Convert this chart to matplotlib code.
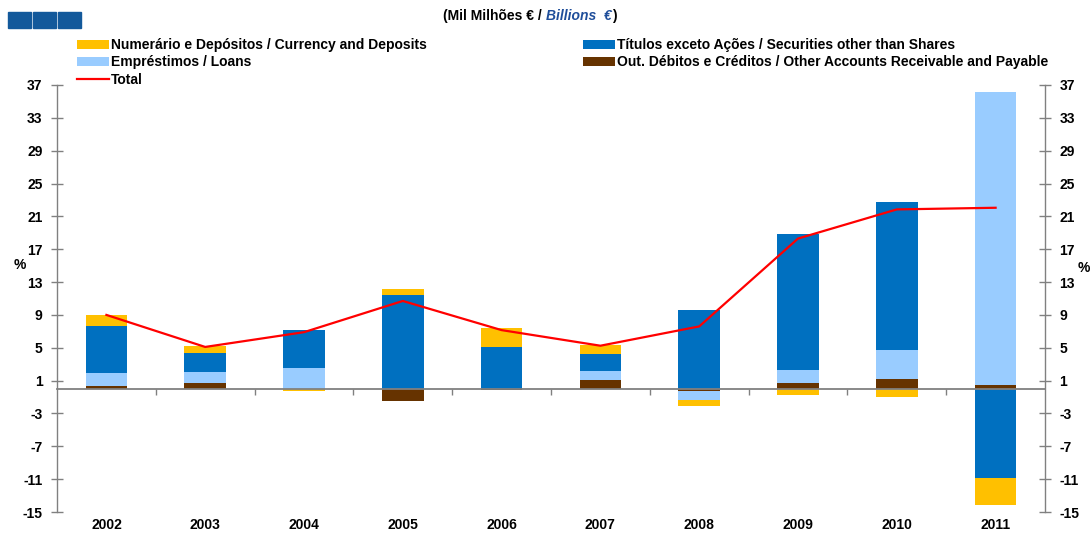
import matplotlib
matplotlib.use("Agg")
import matplotlib.pyplot as plt
from matplotlib.patches import Rectangle
import matplotlib.transforms as mtransforms
import numpy as np

plt.rcParams['font.family'] = ['Liberation Sans Narrow', 'Liberation Sans', 'DejaVu Sans']
plt.rcParams['font.weight'] = 'bold'
plt.rcParams['axes.unicode_minus'] = False

# --- DATA (Mil Milhões € / Billions €) ---
years = ['2002', '2003', '2004', '2005', '2006', '2007', '2008', '2009', '2010', '2011']
other_accounts = [0.3, 0.75, 0.0, -1.45, -0.2, 1.05, -0.3, 0.65, 1.25, 0.5]
loans = [1.6, 1.35, 2.5, 0.0, 0.0, 1.15, -1.05, 1.65, 3.45, 35.7]
securities = [5.8, 2.3, 4.7, 11.4, 5.1, 2.0, 9.6, 16.6, 18.1, -10.8]
currency = [1.3, 0.8, -0.3, 0.7, 2.25, 1.15, -0.7, -0.7, -1.0, -3.4]
total = [9.0, 5.1, 6.9, 10.7, 7.15, 5.25, 7.6, 18.3, 21.85, 22.05]
yticks = [37, 33, 29, 25, 21, 17, 13, 9, 5, 1, -3, -7, -11, -15]

lbl_currency = 'Numerário e Depósitos / Currency and Deposits'
lbl_securities = 'Títulos exceto Ações / Securities other than Shares'
lbl_loans = 'Empréstimos / Loans'
lbl_other = 'Out. Débitos e Créditos / Other Accounts Receivable and Payable'
lbl_total = 'Total'

c_currency = '#FFC000'
c_securities = '#0070C0'
c_loans = '#99CCFF'
c_other = '#663300'
c_total = '#FF0000'
c_axis = '#808080'

W, H = 1091, 533
fig = plt.figure(figsize=(W / 100, H / 100), dpi=100)
ax = fig.add_axes([57 / W, 1 - 512 / H, (1045 - 57) / W, (512 - 85) / H])

x = np.arange(len(years))
pos_base = np.zeros(len(years))
neg_base = np.zeros(len(years))
handles = {}
for vals, col, lbl in [(other_accounts, c_other, lbl_other),
                       (loans, c_loans, lbl_loans),
                       (securities, c_securities, lbl_securities),
                       (currency, c_currency, lbl_currency)]:
    v = np.array(vals)
    base = np.where(v >= 0, pos_base, neg_base)
    handles[lbl] = ax.bar(x, v, width=0.42, bottom=base, color=col, label=lbl, zorder=2)
    pos_base += np.where(v >= 0, v, 0)
    neg_base += np.where(v < 0, v, 0)

line, = ax.plot(x, total, color=c_total, lw=1.6, zorder=4, label=lbl_total)

ax.set_xlim(-0.5, len(years) - 0.5)
ax.set_ylim(-15, 37)
ax.set_yticks(yticks)
ax.tick_params(axis='y', which='both', direction='inout', length=9, width=1,
               color=c_axis, labelsize=10, right=True, labelright=True, pad=6)

# zero line acts as the category axis
ax.spines['top'].set_visible(False)
ax.spines['bottom'].set_position(('data', 0))
ax.spines['bottom'].set_color(c_axis)
ax.spines['bottom'].set_linewidth(1.3)
ax.spines['bottom'].set_zorder(3)
for s in ['left', 'right']:
    ax.spines[s].set_color(c_axis)
    ax.spines[s].set_linewidth(1)
ax.set_xticks(np.arange(0.5, len(years) - 1, 1.0))
ax.set_xticklabels([])
ax.tick_params(axis='x', direction='out', length=4, width=1, color=c_axis)

# year labels under the plot area
lab_tr = ax.get_xaxis_transform() + mtransforms.ScaledTranslation(0, -13 / 100, fig.dpi_scale_trans)
for i, yr in enumerate(years):
    ax.text(i, 0, yr, transform=lab_tr, ha='center', va='center',
            fontsize=10, fontweight='bold')

fig.text(14 / W, 1 - 265 / H, '%', fontsize=10, fontweight='bold', va='center')
fig.text(1078 / W, 1 - 268 / H, '%', fontsize=10, fontweight='bold', va='center')

# legends
leg_kw = dict(frameon=False, handlelength=2.3, handleheight=0.6,
              handletextpad=0.15, labelspacing=0.25, borderpad=0, borderaxespad=0,
              prop={'weight': 'bold', 'size': 10})
fig.legend([handles[lbl_currency], handles[lbl_loans], line],
           [lbl_currency, lbl_loans, lbl_total],
           loc='upper left', bbox_to_anchor=(77 / W, 1 - 38 / H), **leg_kw)
fig.legend([handles[lbl_securities], handles[lbl_other]],
           [lbl_securities, lbl_other],
           loc='upper left', bbox_to_anchor=(583 / W, 1 - 38 / H), **leg_kw)

# header squares
for i in range(3):
    fig.patches.append(Rectangle(((8 + i * 25) / W, 1 - 28 / H), 23 / W, 16 / H,
                                 transform=fig.transFigure, color='#13599B'))

# header units text
renderer = fig.canvas.get_renderer()
fig.text(546 / W, 1 - 16 / H, '(Mil Milhões € / ', ha='right', va='center',
         fontsize=10, fontweight='bold')
t2 = fig.text(546 / W, 1 - 16 / H, 'Billions  €', ha='left', va='center',
              fontsize=10, fontweight='bold', style='italic', color='#1F4E9A')
bb = t2.get_window_extent(renderer)
fig.text(bb.x1 / W, 1 - 16 / H, ')', ha='left', va='center', fontsize=10, fontweight='bold')

fig.savefig('out.png', dpi=100)
